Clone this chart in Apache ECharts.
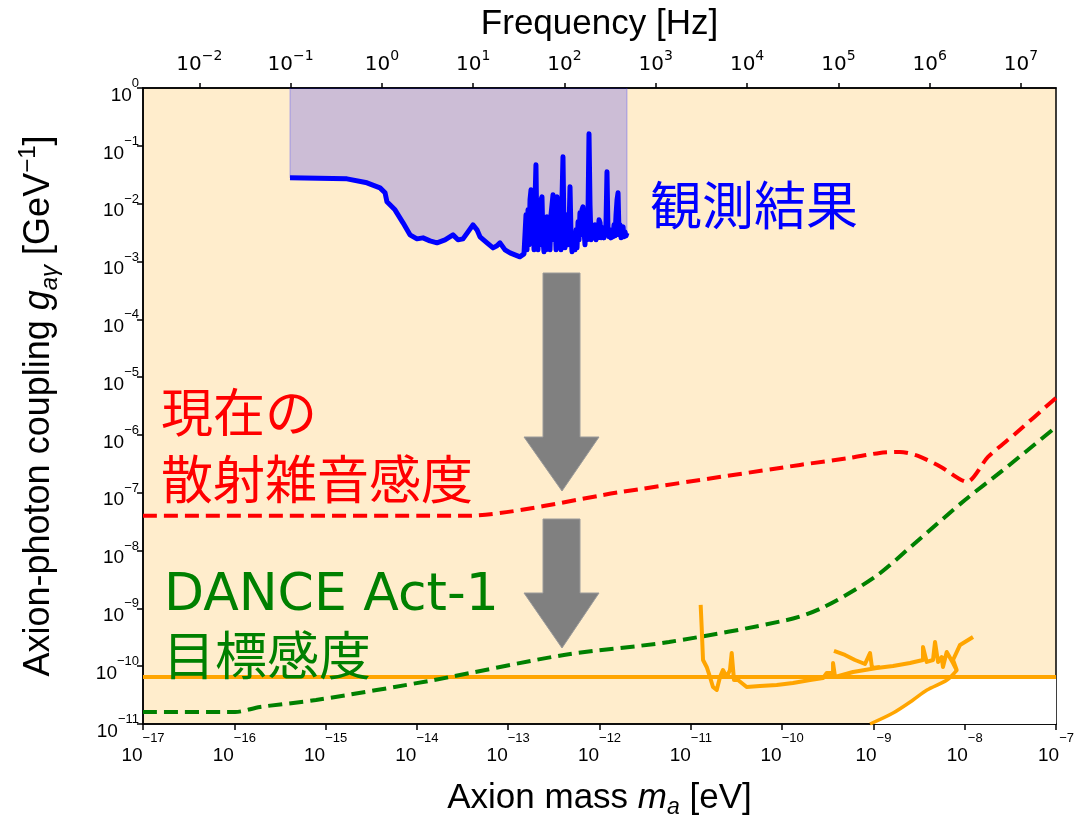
<!DOCTYPE html>
<html><head><meta charset="utf-8">
<script src="https://cdn.jsdelivr.net/npm/echarts@6/dist/echarts.min.js"></script>
<style>html,body{margin:0;padding:0;background:#fff}#c{width:1078px;height:816px}</style>
</head><body><div id="c"></div>
<script>
// ---------- data (log10 units: [log10(mass / eV), log10(g / GeV^-1)]) ----------
const massTickExponents = [-17,-16,-15,-14,-13,-12,-11,-10,-9,-8,-7];
const couplingTickExponents = [-11,-10,-9,-8,-7,-6,-5,-4,-3,-2,-1,0];
const freqTickExponents = [-2,-1,0,1,2,3,4,5,6,7];
const HZ_PER_EV = 2.418e14;

const observedLog = [
  [-15.390,-1.554],[-14.766,-1.571],[-14.547,-1.640],[-14.404,-1.727],[-14.349,-1.813],[-14.328,-1.969],
  [-14.240,-2.107],[-14.152,-2.332],[-14.076,-2.540],[-13.999,-2.609],[-13.933,-2.592],[-13.857,-2.644],
  [-13.780,-2.678],[-13.692,-2.626],[-13.605,-2.540],[-13.550,-2.626],[-13.495,-2.609],[-13.440,-2.488],
  [-13.386,-2.367],[-13.342,-2.453],[-13.309,-2.574],[-13.232,-2.678],[-13.166,-2.765],[-13.123,-2.730],
  [-13.090,-2.678],[-13.035,-2.799],[-12.980,-2.851],[-12.926,-2.886],[-12.871,-2.920],[-12.827,-2.869],
  [-12.816,-2.851],[-12.805,-2.194],[-12.794,-2.799],[-12.783,-2.107],[-12.772,-2.713],[-12.761,-1.934],
  [-12.750,-1.761],[-12.739,-2.626],[-12.728,-2.367],[-12.717,-2.799],[-12.706,-1.934],[-12.696,-1.329],
  [-12.685,-2.626],[-12.674,-2.799],[-12.663,-2.194],[-12.652,-2.713],[-12.641,-1.934],[-12.630,-1.882],
  [-12.619,-2.626],[-12.608,-2.834],[-12.597,-2.367],[-12.586,-2.799],[-12.575,-2.228],[-12.564,-2.713],
  [-12.553,-2.453],[-12.542,-2.799],[-12.531,-2.194],[-12.520,-2.021],[-12.509,-1.848],[-12.498,-2.626],
  [-12.487,-2.280],[-12.476,-2.799],[-12.465,-1.882],[-12.455,-2.540],[-12.444,-2.765],[-12.433,-2.367],
  [-12.422,-2.799],[-12.411,-1.934],[-12.400,-1.190],[-12.389,-2.453],[-12.378,-2.765],[-12.367,-2.453],
  [-12.356,-2.194],[-12.345,-2.713],[-12.334,-2.453],[-12.323,-1.709],[-12.312,-2.540],[-12.301,-2.834],
  [-12.290,-2.747],[-12.279,-2.626],[-12.268,-2.799],[-12.257,-2.453],[-12.246,-2.765],[-12.235,-2.315],
  [-12.224,-2.626],[-12.214,-2.159],[-12.203,-2.540],[-12.192,-2.107],[-12.181,-2.055],[-12.170,-2.453],
  [-12.159,-2.713],[-12.148,-2.367],[-12.137,-2.626],[-12.126,-2.194],[-12.115,-0.792],[-12.104,-2.021],
  [-12.093,-2.626],[-12.082,-2.367],[-12.071,-2.505],[-12.060,-2.592],[-12.049,-2.367],[-12.038,-2.626],
  [-12.027,-2.419],[-12.016,-2.592],[-12.005,-2.280],[-11.994,-2.332],[-11.983,-2.592],[-11.973,-2.557],
  [-11.962,-2.419],[-11.951,-2.592],[-11.940,-2.453],[-11.929,-2.367],[-11.918,-1.450],[-11.907,-2.488],
  [-11.896,-2.574],[-11.885,-2.453],[-11.874,-2.592],[-11.863,-2.488],[-11.852,-2.574],[-11.841,-2.367],
  [-11.830,-2.557],[-11.819,-2.194],[-11.808,-1.934],[-11.797,-1.813],[-11.786,-2.540],[-11.775,-2.367],
  [-11.764,-2.592],[-11.753,-2.453],[-11.742,-2.401],[-11.732,-2.574],[-11.721,-2.488],[-11.710,-2.557],
  [-11.699,-2.505]
];
const observedTopLog = 0; // excluded band reaches the top of the plot

const scatterNoiseLog = [
  [-17.000,-7.400],[-13.470,-7.400],[-11.775,-6.990],[-9.804,-6.519],[-9.256,-6.398],[-8.930,-6.311],
  [-8.709,-6.294],[-8.511,-6.363],[-8.260,-6.554],[-7.975,-6.813],[-7.745,-6.381],[-7.449,-5.983],
  [-7.000,-5.360]
];

const danceTargetLog = [
  [-17.000,-10.792],[-15.992,-10.792],[-15.718,-10.706],[-15.105,-10.585],[-13.813,-10.239],
  [-12.389,-9.806],[-11.239,-9.581],[-9.946,-9.201],[-9.563,-8.993],[-8.983,-8.457],[-8.555,-7.886],
  [-7.997,-7.125],[-7.591,-6.623],[-7.000,-5.862]
];

const orangeFlatLog = [[-17.000,-10.187],[-7.000,-10.187]];

const orangeUpperLog = [
  [-10.892,-8.941],[-10.881,-9.322],[-10.866,-9.893],[-10.826,-10.014],[-10.790,-10.187],[-10.757,-10.360],
  [-10.716,-10.412],[-10.680,-10.187],[-10.648,-10.066],[-10.607,-10.187],[-10.571,-10.066],[-10.552,-9.772],
  [-10.527,-10.239],[-10.483,-10.239],[-10.388,-10.360],[-10.242,-10.343],[-10.059,-10.325],[-9.881,-10.291],
  [-9.694,-10.239],[-9.551,-10.204],[-9.511,-10.118],[-9.442,-10.118],[-9.442,-9.945],[-9.420,-10.187],
  [-9.223,-10.100],[-8.964,-10.031],[-8.785,-9.997],[-8.599,-9.945],[-8.457,-9.893],[-8.457,-9.668],
  [-8.416,-9.927],[-8.347,-9.893],[-8.325,-9.581],[-8.292,-9.927],[-8.252,-9.841],[-8.238,-10.014],
  [-8.197,-9.754],[-8.128,-9.945],[-8.088,-10.066],[-8.128,-9.893],[-8.051,-9.633],[-7.909,-9.495]
];

const orangeBranchLog = [
  [-9.432,-9.737],[-9.311,-9.806],[-9.202,-9.893],[-9.092,-9.962],[-9.037,-9.772],[-9.015,-10.031],[-8.928,-10.014]
];

const orangeLowerLog = [
  [-9.037,-11.000],[-8.785,-10.810],[-8.566,-10.585],[-8.413,-10.412],[-8.194,-10.239],[-8.084,-10.066]
];

// region below the flat limit that is NOT excluded (drawn white)
const openRegionLog = [
  [-9.037,-11.000],[-8.785,-10.810],[-8.566,-10.585],[-8.413,-10.412],[-8.194,-10.239],[-8.150,-10.187],[-7.000,-10.187]
];

// ---------- helpers ----------
const toVal = arr => arr.map(p => [Math.pow(10, p[0]), Math.pow(10, p[1])]);
const pow10 = arr => arr.map(e => Math.pow(10, e));
const expText = e => (e < 0 ? '\u2212' + (-e) : String(e));
const supLabel = v => '{b|10}{s|' + expText(Math.round(Math.log10(v))) + '}';

const sans = '"Liberation Sans", Arial, sans-serif';
const dejavu = '"DejaVu Sans", sans-serif';
const cjk = '"Noto Sans CJK JP", sans-serif';

const axisLineStyle = {show: true, lineStyle: {color: '#000', width: 1.5}};
const tickStyle = len => ({show: true, inside: false, length: len, lineStyle: {color: '#000', width: 1.5}});

const lowRich = {
  b: {fontSize: 19, fontFamily: sans, color: '#000', lineHeight: 33, verticalAlign: 'bottom'},
  s: {fontSize: 13, fontFamily: sans, color: '#000', verticalAlign: 'top'}
};
const leftRich = {
  b: {fontSize: 19, fontFamily: sans, color: '#000', lineHeight: 28, verticalAlign: 'bottom'},
  s: {fontSize: 13, fontFamily: sans, color: '#000', verticalAlign: 'top'}
};
const topRich = {
  b: {fontSize: 20, fontFamily: dejavu, color: '#000', lineHeight: 26, verticalAlign: 'bottom'},
  s: {fontSize: 14, fontFamily: dejavu, color: '#000', verticalAlign: 'top'}
};

const observedFill = [[observedLog[0][0], observedTopLog]].concat(observedLog, [[observedLog[observedLog.length - 1][0], observedTopLog]]);

const option = {
  animation: false,
  backgroundColor: '#fff',
  grid: {left: 143, right: 22, top: 88, bottom: 92, outerBoundsMode: 'none', containLabel: false,
         show: true, backgroundColor: '#FFEDCC', borderColor: '#000', borderWidth: 1.5},
  xAxis: [
    {
      type: 'log', logBase: 10, min: 1e-17, max: 1e-7, position: 'bottom',
      axisLine: axisLineStyle, axisTick: Object.assign(tickStyle(6), {customValues: pow10(massTickExponents)}),
      axisLabel: {customValues: pow10(massTickExponents), formatter: supLabel, rich: lowRich, margin: 8},
      splitLine: {show: false}, minorTick: {show: false},
      name: '{t|Axion mass }{i|m}{sub|a}{t| [eV]}', nameLocation: 'middle', nameGap: 53, nameMoveOverlap: false,
      nameTextStyle: {color: '#000', rich: {
        t: {fontSize: 35, fontFamily: sans, color: '#000', lineHeight: 42},
        i: {fontSize: 35, fontFamily: sans, fontStyle: 'italic', color: '#000', lineHeight: 42},
        sub: {fontSize: 23, fontFamily: sans, fontStyle: 'italic', color: '#000', verticalAlign: 'bottom'}
      }}
    },
    {
      type: 'log', logBase: 10, min: 1e-17 * HZ_PER_EV, max: 1e-7 * HZ_PER_EV, position: 'top',
      axisLine: axisLineStyle, axisTick: Object.assign(tickStyle(5), {customValues: pow10(freqTickExponents)}),
      axisLabel: {customValues: pow10(freqTickExponents), formatter: supLabel, rich: topRich, margin: 13},
      splitLine: {show: false}, minorTick: {show: false},
      name: 'Frequency [Hz]', nameLocation: 'middle', nameGap: 46, nameMoveOverlap: false,
      nameTextStyle: {fontSize: 35, fontFamily: sans, color: '#000'}
    }
  ],
  yAxis: [
    {
      type: 'log', logBase: 10, min: 1e-11, max: 1,
      axisLine: axisLineStyle, axisTick: Object.assign(tickStyle(6), {customValues: pow10(couplingTickExponents)}),
      axisLabel: {customValues: pow10(couplingTickExponents), formatter: supLabel, rich: leftRich, margin: 4, padding: [6, 0, 0, 0]},
      splitLine: {show: false}, minorTick: {show: false},
      name: '{t|Axion-photon coupling }{i|g}{sub|a\u03b3}{t| [GeV}{sup|\u22121}{t|]}',
      nameLocation: 'middle', nameRotate: 90, nameGap: 81, nameMoveOverlap: false,
      nameTextStyle: {color: '#000', rich: {
        t: {fontSize: 36, fontFamily: sans, color: '#000', lineHeight: 46},
        i: {fontSize: 36, fontFamily: sans, fontStyle: 'italic', color: '#000', lineHeight: 46},
        sub: {fontSize: 24, fontFamily: sans, fontStyle: 'italic', color: '#000', verticalAlign: 'bottom'},
        sup: {fontSize: 24, fontFamily: sans, color: '#000', verticalAlign: 'top'}
      }}
    }
  ],
  series: [
    {type: 'line', name: 'open', data: toVal(openRegionLog), xAxisIndex: 0, showSymbol: false, silent: true,
     lineStyle: {width: 0, opacity: 0}, areaStyle: {color: '#ffffff', opacity: 1, origin: 'start'}, z: 1},
    {type: 'line', name: 'observed-fill', data: toVal(observedFill), xAxisIndex: 0, showSymbol: false, silent: true,
     lineStyle: {width: 1, color: 'rgba(60,60,255,0.35)'}, areaStyle: {color: 'rgba(0,0,255,0.2)', opacity: 1, origin: 'end'}, z: 2},
    {type: 'line', name: 'flat', data: toVal(orangeFlatLog), showSymbol: false, silent: true,
     lineStyle: {width: 4, color: '#FFA500'}, z: 3},
    {type: 'line', name: 'DANCE target', data: toVal(danceTargetLog), showSymbol: false, smooth: 0.3, silent: true,
     lineStyle: {width: 4, color: '#008000', type: [14, 7]}, z: 4},
    {type: 'line', name: 'shot noise', data: toVal(scatterNoiseLog), showSymbol: false, smooth: 0.25, silent: true,
     lineStyle: {width: 4, color: '#FF0000', type: [14, 7]}, z: 4},
    {type: 'line', name: 'orange upper', data: toVal(orangeUpperLog), showSymbol: false, silent: true,
     lineStyle: {width: 4, color: '#FFA500', join: 'round'}, z: 5},
    {type: 'line', name: 'orange branch', data: toVal(orangeBranchLog), showSymbol: false, silent: true,
     lineStyle: {width: 4, color: '#FFA500', join: 'round'}, z: 5},
    {type: 'line', name: 'orange lower', data: toVal(orangeLowerLog), showSymbol: false, smooth: 0.3, silent: true,
     lineStyle: {width: 3.5, color: '#FFA500'}, z: 5},
    {type: 'line', name: 'observed', data: toVal(observedLog), showSymbol: false, silent: true,
     lineStyle: {width: 5, color: '#0000FF', join: 'round'}, z: 6}
  ],
  graphic: [
    {type: 'polygon', z: 50, shape: {points: [[543,273],[580,273],[580,437],[599,437],[562,491],[524,437],[543,437]]},
     style: {fill: '#808080', stroke: '#9a9a9a', lineWidth: 1}},
    {type: 'polygon', z: 50, shape: {points: [[543,519],[580,519],[580,593],[599,593],[562,648],[524,593],[543,593]]},
     style: {fill: '#808080', stroke: '#9a9a9a', lineWidth: 1}},
    {type: 'text', z: 50, x: 650, y: 205, style: {text: '観測結果', fill: '#0000FF', fontSize: 52, fontFamily: cjk, textAlign: 'left', textVerticalAlign: 'middle'}},
    {type: 'text', z: 50, x: 161, y: 412, style: {text: '現在の', fill: '#FF0000', fontSize: 52, fontFamily: cjk, textAlign: 'left', textVerticalAlign: 'middle'}},
    {type: 'text', z: 50, x: 161, y: 479, style: {text: '散射雑音感度', fill: '#FF0000', fontSize: 52, fontFamily: cjk, textAlign: 'left', textVerticalAlign: 'middle'}},
    {type: 'text', z: 50, x: 164, y: 596, style: {text: 'DANCE Act-1', fill: '#008000', fontSize: 52, fontFamily: dejavu, textAlign: 'left', textVerticalAlign: 'middle'}},
    {type: 'text', z: 50, x: 163, y: 655, style: {text: '目標感度', fill: '#008000', fontSize: 52, fontFamily: cjk, textAlign: 'left', textVerticalAlign: 'middle'}}
  ]
};

const chart = echarts.init(document.getElementById('c'), null, {renderer: 'canvas'});
chart.setOption(option);
</script>
</body></html>
